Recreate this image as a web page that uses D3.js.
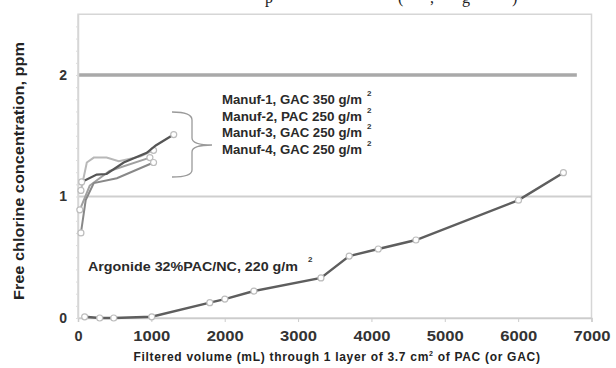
<!DOCTYPE html>
<html><head><meta charset="utf-8">
<script src="https://cdn.jsdelivr.net/npm/d3@7"></script>
<style>body{margin:0;background:#fff}svg{display:block}</style>
</head><body>
<svg id="c" width="616" height="368"></svg>
<script>
const xTicks = [0,1000,2000,3000,4000,5000,6000,7000];
const yTicks = [0,1,2];
const argonideX = [91,296,487,1005,1797,2002,2398,3312,3697,4093,4607,6005,6617];
const argonideY = [0.01,0.0,0.0,0.01,0.126,0.156,0.222,0.33,0.51,0.568,0.642,0.97,1.196];
const manuf1X = [50,255,390,623,937,1060,1305];
const manuf1Y = [1.12,1.18,1.185,1.28,1.36,1.42,1.51];
const manuf2X = [40,120,215,390,555,855,1030];
const manuf2Y = [1.05,1.28,1.32,1.32,1.29,1.33,1.38];
const manuf3X = [40,105,215,530,1030];
const manuf3Y = [0.70,0.97,1.11,1.15,1.28];
const manuf4X = [25,160,430,980];
const manuf4Y = [0.89,1.09,1.21,1.32];
const legendLabels = ["Manuf-1, GAC 350 g/m","Manuf-2, PAC 250 g/m","Manuf-3, GAC 250 g/m","Manuf-4, GAC 250 g/m"];
const argonideLabel = "Argonide 32%PAC/NC, 220 g/m";
const limitLine = [[0,2],[6800,2]];

const svg = d3.select("#c");
const x = d3.scaleLinear().domain([0,7000]).range([78,591.5]);
const y = d3.scaleLinear().domain([0,2.5]).range([318,14.25]);
const font = "'Liberation Sans', Arial, sans-serif";

// top caption fragments (cropped in the source picture)
const capFrag = [["p",265],["(",398],[",",430],["g",462],[")",512]];
svg.selectAll("text.cap").data(capFrag).enter().append("text")
  .attr("x",d=>d[1]).attr("y",3).attr("font-family","'Liberation Serif', serif")
  .attr("font-size",16).attr("fill","#222").text(d=>d[0]);

// plot frame
svg.append("rect").attr("x",x(0)).attr("y",y(2.5)).attr("width",x(7000)-x(0)).attr("height",y(0)-y(2.5))
  .attr("fill","none").attr("stroke","#d6d6d6").attr("stroke-width",1.5);

// gridline at 1
svg.append("line").attr("x1",x(0)).attr("x2",x(7000)).attr("y1",y(1)).attr("y2",y(1))
  .attr("stroke","#cfcfcf").attr("stroke-width",2);
// limit line at 2
svg.append("path").attr("d",d3.line().x(d=>x(d[0])).y(d=>y(d[1]))(limitLine))
  .attr("stroke","#a9a9a9").attr("stroke-width",3.5).attr("fill","none");

// x axis
const xa = svg.append("g").attr("transform",`translate(0,${y(0)})`)
  .call(d3.axisBottom(x).tickValues(xTicks).tickSize(4).tickFormat(d3.format("d")));
xa.select(".domain").attr("stroke","#cccccc").attr("stroke-width",1.5);
xa.selectAll(".tick line").attr("stroke","#cccccc");
xa.selectAll("text").attr("font-family",font).attr("font-weight","bold").attr("font-size",14.5)
  .attr("fill","#333").attr("y",13).attr("dy","0.71em").attr("textLength",37).attr("lengthAdjust","spacingAndGlyphs");
xa.selectAll("text").filter(d=>d===0).attr("textLength",null);

// y axis
const ya = svg.append("g").attr("transform",`translate(${x(0)},0)`)
  .call(d3.axisLeft(y).tickValues(yTicks).tickSize(0).tickFormat(d3.format("d")));
ya.select(".domain").attr("stroke","#d6d6d6").attr("stroke-width",1.5);
ya.selectAll("text").attr("font-family",font).attr("font-weight","bold").attr("font-size",14)
  .attr("fill","#333").attr("x",-11);
// minor y ticks
svg.append("g").attr("transform",`translate(${x(0)},0)`)
  .call(d3.axisLeft(y).tickValues(d3.range(0,2.5,0.1)).tickSize(2).tickFormat(""))
  .call(g=>g.select(".domain").remove()).selectAll("line").attr("stroke","#dddddd");

// axis titles
const xt = svg.append("text").attr("x",337).attr("y",361).attr("text-anchor","middle")
  .attr("font-family",font).attr("font-weight","bold").attr("font-size",12).attr("fill","#222")
  .attr("letter-spacing",0.7);
xt.append("tspan").text("Filtered volume (mL) through 1 layer of 3.7 cm");
xt.append("tspan").attr("dy",-5).attr("font-size",7).text("2");
xt.append("tspan").attr("dy",5).text(" of PAC (or GAC)");
svg.append("text").attr("transform","translate(24,171) rotate(-90)").attr("text-anchor","middle")
  .attr("font-family",font).attr("font-weight","bold").attr("font-size",14.5).attr("fill","#222")
  .attr("textLength",258).attr("lengthAdjust","spacingAndGlyphs")
  .text("Free chlorine concentration, ppm");

// series
const line = d3.line().x(d=>x(d[0])).y(d=>y(d[1]));
const zipS = (a,b)=>a.map((v,i)=>[v,b[i]]);
const series = [
  {pts:zipS(manuf2X,manuf2Y), color:"#b8b8b8", w:2},
  {pts:zipS(manuf4X,manuf4Y), color:"#a0a0a0", w:2},
  {pts:zipS(manuf3X,manuf3Y), color:"#888888", w:2},
  {pts:zipS(manuf1X,manuf1Y), color:"#555555", w:2.2},
  {pts:zipS(argonideX,argonideY), color:"#5e5e5e", w:2.4, allMarkers:true}
];
series.forEach(s=>{
  svg.append("path").attr("d",line(s.pts)).attr("fill","none").attr("stroke",s.color).attr("stroke-width",s.w);
  const mk = s.allMarkers ? s.pts : [s.pts[0], s.pts[s.pts.length-1]];
  svg.selectAll(null).data(mk).enter().append("circle")
    .attr("cx",d=>x(d[0])).attr("cy",d=>y(d[1])).attr("r",3)
    .attr("fill","#fff").attr("stroke","#bdbdbd").attr("stroke-width",1.2);
});

// brace
svg.append("path").attr("d","M172,112 Q192,112 192,120 L192,138 Q192,145 212,145 Q192,145 192,152 L192,170 Q192,177 172,177")
  .attr("fill","none").attr("stroke","#9a9a9a").attr("stroke-width",1.3);

// legend labels
svg.selectAll("text.leg").data(legendLabels).enter().append("text")
  .attr("x",222).attr("y",(d,i)=>104+i*16.5)
  .attr("font-family",font).attr("font-size",12.5).attr("font-weight","bold").attr("fill","#2a2a2a")
  .attr("textLength",140).attr("lengthAdjust","spacingAndGlyphs").text(d=>d);
svg.selectAll("text.legsup").data(legendLabels).enter().append("text")
  .attr("x",367).attr("y",(d,i)=>96+i*16.5)
  .attr("font-family",font).attr("font-size",8).attr("font-weight","bold").attr("fill","#333").text("2");

svg.append("text").attr("x",88).attr("y",271).attr("font-family",font).attr("font-size",13)
  .attr("font-weight","bold").attr("fill","#2a2a2a")
  .attr("textLength",210).attr("lengthAdjust","spacingAndGlyphs").text(argonideLabel);
svg.append("text").attr("x",308).attr("y",262).attr("font-family",font).attr("font-size",8)
  .attr("font-weight","bold").attr("fill","#333").text("2");
</script>
</body></html>
